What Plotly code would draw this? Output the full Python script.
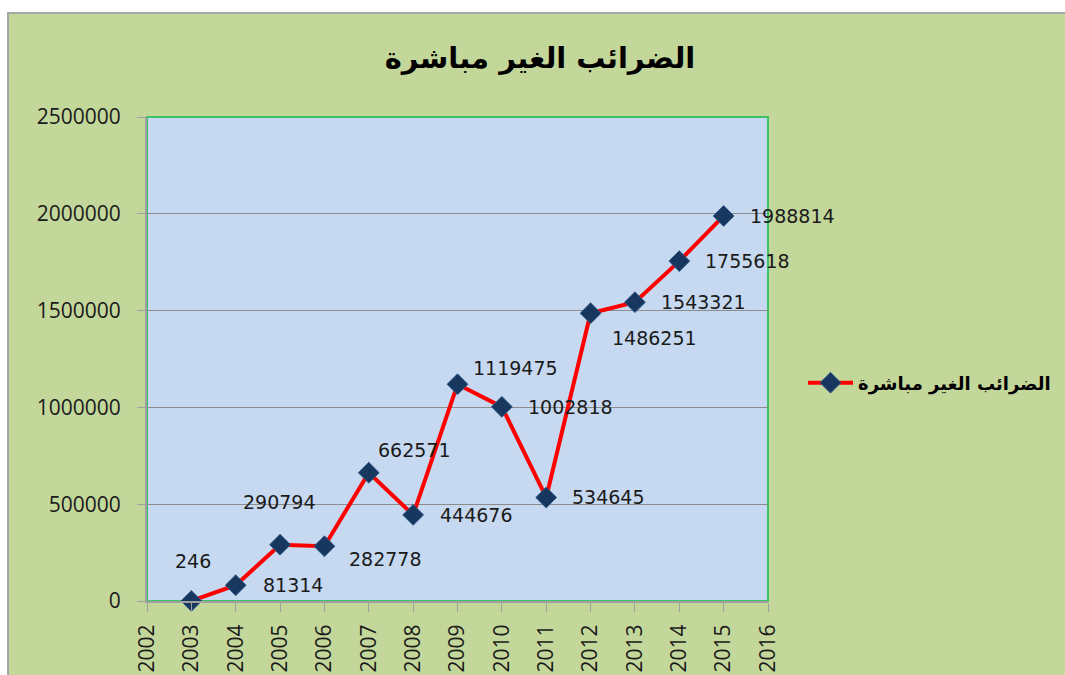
import plotly.graph_objects as go

# ---- data ----
years = [2003, 2004, 2005, 2006, 2007, 2008, 2009, 2010, 2011, 2012, 2013, 2014, 2015]
values = [246, 81314, 290794, 282778, 662571, 444676, 1119475, 1002818, 534645,
          1486251, 1543321, 1755618, 1988814]
series_name = "الضرائب الغير مباشرة"
title_text = "الضرائب الغير مباشرة"
x_ticks = list(range(2002, 2017))
y_ticks = [0, 500000, 1000000, 1500000, 2000000, 2500000]

# ---- label placement (style only) ----
label_anchor = ["center", "left", "center", "left", "left", "left", "left",
                "left", "left", "left", "left", "left", "left"]
label_dx = [2, 25, -1, 23, 7, 25, 13, 24, 24, 19, 24, 24, 24]
label_dy = [40, 0, 43, -13, 23, 0, 16, 0, 0, -25, 0, 0, 0]

W, H = 1065, 675
L, R, T, B = 147, 768, 117, 601


def px_x(p):
    return (p - L) / (R - L)


def px_y(p):
    return (B - p) / (B - T)


fig = go.Figure()
fig.add_trace(go.Scatter(
    x=years, y=values, mode="lines+markers", name="<b>" + series_name + "</b>",
    line=dict(color="#FF0000", width=4),
    marker=dict(symbol="diamond", size=16, color="#17375E",
                line=dict(color="#2E5A8A", width=1)),
    cliponaxis=False,
))

annotations = []
for x, v, a, dx, dy in zip(years, values, label_anchor, label_dx, label_dy):
    annotations.append(dict(
        x=x, y=v, xref="x", yref="y", text=str(v), showarrow=False,
        xanchor=a, yanchor="middle", xshift=dx, yshift=dy,
        font=dict(family="DejaVu Sans", size=19, color="#1a1a1a"),
    ))

shapes = [
    # outer chart area (green) with gray border
    dict(type="rect", xref="paper", yref="paper", layer="below",
         x0=px_x(8), x1=px_x(1070), y0=px_y(690), y1=px_y(13),
         fillcolor="#C4D79B", line=dict(color="#A6A6A6", width=2)),
    # plot area (light blue) with green border
    dict(type="rect", xref="paper", yref="paper", layer="below",
         x0=0, x1=1, y0=0, y1=1,
         fillcolor="#C6D9F0", line=dict(color="#3CC36A", width=2)),
]

fig.update_layout(
    width=W, height=H,
    margin=dict(l=L, r=W - R, t=T, b=H - B, pad=0, autoexpand=False),
    paper_bgcolor="white",
    plot_bgcolor="rgba(0,0,0,0)",
    title=dict(text="<b>" + title_text + "</b>", x=540 / W, xanchor="center",
               y=1 - 58 / H, yanchor="middle",
               font=dict(family="DejaVu Sans", size=29, color="black")),
    showlegend=True,
    legend=dict(x=px_x(803), y=px_y(383), xanchor="left", yanchor="middle",
                bgcolor="rgba(0,0,0,0)",
                font=dict(family="DejaVu Sans", size=18, color="black"),
                itemwidth=45),
    shapes=shapes,
    annotations=annotations,
)

tick_font = dict(family="Open Sans", size=21, color="#1a1a1a")

fig.update_xaxes(
    range=[2002, 2016], tickmode="array", tickvals=x_ticks,
    ticktext=[str(t) for t in x_ticks],
    tickangle=-90, ticks="outside", ticklen=9, tickcolor="#A0A0A0",
    showline=True, linecolor="#A0A0A0", linewidth=2,
    showgrid=False, zeroline=False, automargin=False,
    tickfont=tick_font,
    ticklabelstandoff=4,
)
fig.update_yaxes(
    range=[0, 2500000], tickmode="array", tickvals=y_ticks,
    ticktext=[str(t) for t in y_ticks],
    ticks="outside", ticklen=8, tickcolor="#A0A0A0",
    showline=True, linecolor="#A0A0A0", linewidth=2,
    showgrid=True, gridcolor="#8C8C8C", gridwidth=1,
    zeroline=False, automargin=False,
    tickfont=tick_font,
    ticklabelstandoff=12,
)

fig.write_html(
    "out.html",
    config={"displayModeBar": False},
    post_script="document.body.style.margin='0';document.body.style.overflow='hidden';",
)
